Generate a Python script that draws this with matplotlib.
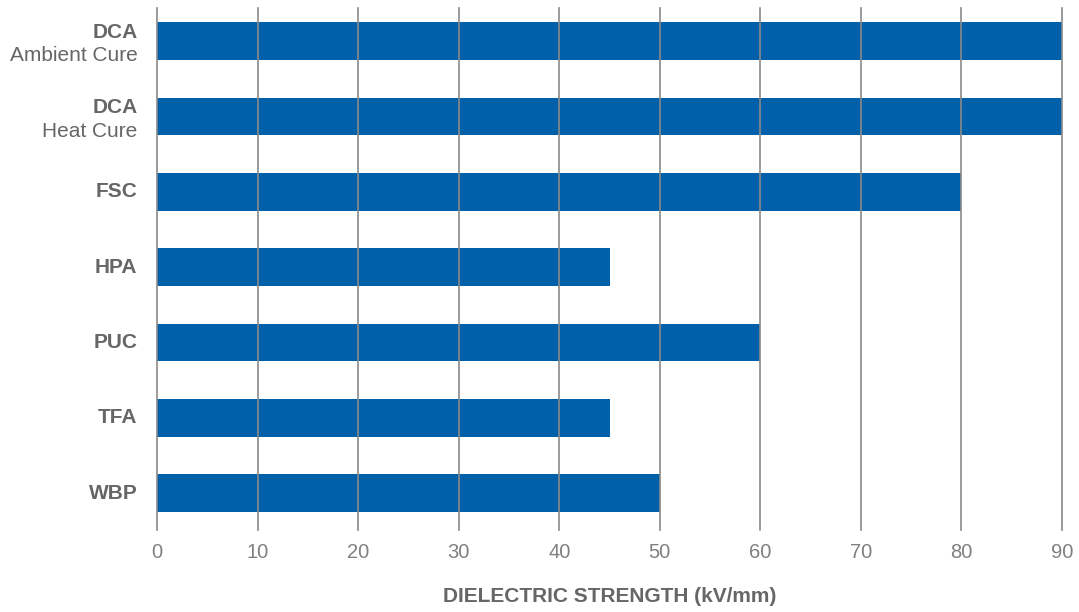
import matplotlib
matplotlib.use('Agg')
import matplotlib.pyplot as plt

plt.rcParams['font.family'] = ['Liberation Sans', 'DejaVu Sans']

# 数据
names = ['DCA', 'DCA', 'FSC', 'HPA', 'PUC', 'TFA', 'WBP']
subnames = ['Ambient Cure', 'Heat Cure', '', '', '', '', '']
values = [90, 90, 80, 45, 60, 45, 50]
xticks = [0, 10, 20, 30, 40, 50, 60, 70, 80, 90]

BAR_COLOR = '#0060a9'
GRID_COLOR = '#8a8a8a'
LABEL_COLOR = '#666666'
TICK_COLOR = '#808080'

fig = plt.figure(figsize=(10.79, 6.12), dpi=100)
ax = fig.add_axes([157 / 1079, 1 - 530 / 612, (1062 - 157) / 1079, 522 / 612])

ypos = list(range(len(values)))
ax.barh(ypos, values, height=0.5, color=BAR_COLOR, zorder=1)

# 网格线画在柱子上方
for x in xticks:
    ax.axvline(x, color=GRID_COLOR, linewidth=1.2, zorder=3, clip_on=False)

ax.set_xlim(0, 90)
ax.set_ylim(6.49, -0.44)
ax.set_xticks(xticks)
ax.set_xticklabels([str(x) for x in xticks], fontsize=14.5, color=TICK_COLOR)
ax.tick_params(axis='x', length=0, pad=9)
ax.set_yticks([])
for s in ax.spines.values():
    s.set_visible(False)

# 类别标签
for y, name, sub in zip(ypos, names, subnames):
    if sub:
        ax.annotate(name, xy=(0, y), xycoords=('axes fraction', 'data'),
                    xytext=(-14, 6.5), textcoords='offset points',
                    ha='right', va='center', fontsize=15, fontweight='bold', color=LABEL_COLOR)
        ax.annotate(sub, xy=(0, y), xycoords=('axes fraction', 'data'),
                    xytext=(-14, -10.5), textcoords='offset points',
                    ha='right', va='center', fontsize=15, color=LABEL_COLOR)
    else:
        ax.annotate(name, xy=(0, y), xycoords=('axes fraction', 'data'),
                    xytext=(-14, 0), textcoords='offset points',
                    ha='right', va='center', fontsize=15, fontweight='bold', color=LABEL_COLOR)

fig.text(609.5 / 1079, 1 - 597 / 612, 'DIELECTRIC STRENGTH (kV/mm)',
         ha='center', va='center', fontsize=15, fontweight='bold', color=LABEL_COLOR)

plt.savefig('out.png', dpi=100)
plt.close()
